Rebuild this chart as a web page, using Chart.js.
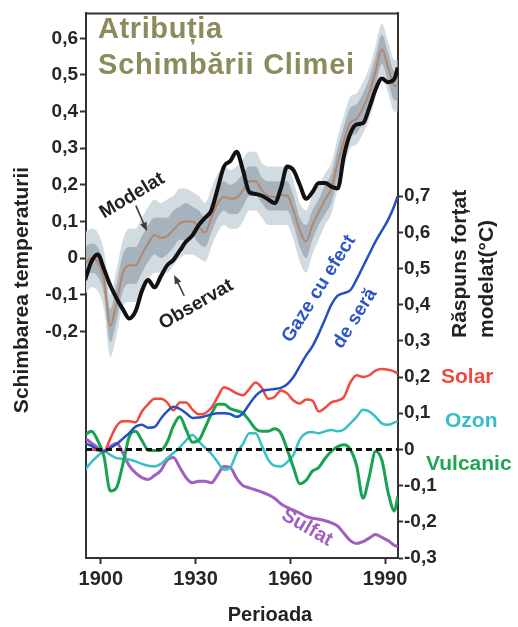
<!DOCTYPE html>
<html>
<head>
<meta charset="utf-8">
<script src="https://cdn.jsdelivr.net/npm/chart.js@4.4.1/dist/chart.umd.min.js"></script>
<style>
  html, body { margin: 0; padding: 0; background: #fff; }
  #wrap { width: 518px; height: 627px; position: relative; }
</style>
</head>
<body>
<div id="wrap"><canvas id="grafic"></canvas></div>
<script>
const FONT = "'Liberation Sans', Arial, sans-serif";

// years shared by every series
const years = [1895, 1897, 1899, 1901, 1903, 1905, 1907, 1909, 1911, 1913,
  1915, 1917, 1919, 1921, 1923, 1925, 1927, 1929, 1931, 1933,
  1935, 1937, 1939, 1941, 1943, 1945, 1947, 1949, 1951, 1953,
  1955, 1957, 1959, 1961, 1963, 1965, 1967, 1969, 1971, 1973,
  1975, 1977, 1979, 1981, 1983, 1985, 1987, 1989, 1991, 1993, 1994];

const xTicks = [1900, 1930, 1960, 1990];
const tempTicks = [-0.2, -0.1, 0, 0.1, 0.2, 0.3, 0.4, 0.5, 0.6];
const forcTicks = [-0.3, -0.2, -0.1, 0, 0.1, 0.2, 0.3, 0.4, 0.5, 0.6, 0.7];

// upper panel, left axis (temperature change)
const observed = [-0.06, -0.01, 0.01, -0.03, -0.075, -0.11, -0.14, -0.165, -0.145, -0.09,
  -0.06, -0.08, -0.05, -0.02, -0.005, 0.02, 0.045, 0.062, 0.09, 0.11,
  0.13, 0.19, 0.25, 0.265, 0.29, 0.24, 0.18, 0.175, 0.17, 0.16,
  0.15, 0.19, 0.25, 0.24, 0.2, 0.162, 0.18, 0.205, 0.205, 0.195,
  0.19, 0.28, 0.34, 0.365, 0.368, 0.41, 0.46, 0.49, 0.48, 0.49, 0.52];
const modeled = [-0.015, 0.0, -0.01, -0.06, -0.185, -0.12, -0.04, -0.02, -0.02, 0.01,
  0.04, 0.063, 0.055, 0.06, 0.077, 0.095, 0.1, 0.1, 0.085, 0.07,
  0.11, 0.15, 0.167, 0.162, 0.165, 0.185, 0.21, 0.21, 0.185, 0.17,
  0.167, 0.172, 0.17, 0.13, 0.075, 0.045, 0.09, 0.125, 0.16, 0.19,
  0.26, 0.32, 0.37, 0.38, 0.41, 0.45, 0.51, 0.57, 0.52, 0.47, 0.47];
const outerHi = [0.07, 0.08, 0.07, 0.02, -0.10, -0.03, 0.05, 0.08, 0.08, 0.11,
  0.14, 0.16, 0.15, 0.16, 0.17, 0.19, 0.19, 0.18, 0.17, 0.15,
  0.19, 0.23, 0.25, 0.24, 0.25, 0.27, 0.29, 0.29, 0.26, 0.25,
  0.25, 0.25, 0.25, 0.21, 0.15, 0.13, 0.17, 0.20, 0.23, 0.26,
  0.33, 0.39, 0.44, 0.45, 0.48, 0.52, 0.58, 0.64, 0.59, 0.54, 0.54];
const innerHi = [0.03, 0.04, 0.03, -0.02, -0.14, -0.07, 0.01, 0.03, 0.03, 0.06,
  0.09, 0.11, 0.11, 0.11, 0.13, 0.14, 0.15, 0.14, 0.13, 0.11,
  0.15, 0.19, 0.21, 0.20, 0.21, 0.23, 0.25, 0.25, 0.22, 0.21,
  0.21, 0.21, 0.21, 0.17, 0.11, 0.09, 0.13, 0.16, 0.20, 0.23,
  0.30, 0.36, 0.41, 0.42, 0.45, 0.49, 0.55, 0.61, 0.56, 0.51, 0.51];
const innerLo = [-0.06, -0.04, -0.05, -0.10, -0.23, -0.17, -0.09, -0.07, -0.07, -0.04,
  -0.01, 0.01, 0.00, 0.01, 0.03, 0.05, 0.05, 0.06, 0.04, 0.03,
  0.07, 0.11, 0.13, 0.12, 0.12, 0.14, 0.17, 0.17, 0.15, 0.13,
  0.13, 0.13, 0.13, 0.09, 0.03, 0.00, 0.05, 0.09, 0.12, 0.15,
  0.22, 0.28, 0.33, 0.34, 0.37, 0.41, 0.47, 0.53, 0.48, 0.43, 0.43];
const outerLo = [-0.10, -0.08, -0.09, -0.14, -0.27, -0.21, -0.13, -0.12, -0.12, -0.09,
  -0.06, -0.04, -0.04, -0.04, -0.02, 0.00, 0.01, 0.01, 0.00, -0.01,
  0.03, 0.07, 0.09, 0.08, 0.08, 0.10, 0.13, 0.13, 0.11, 0.09,
  0.09, 0.09, 0.09, 0.05, -0.01, -0.04, 0.01, 0.05, 0.09, 0.12,
  0.19, 0.25, 0.30, 0.31, 0.34, 0.38, 0.44, 0.50, 0.45, 0.40, 0.40];

// lower panel, right axis (forced response)
const greenhouse = [0.017, 0.01, 0.0, -0.005, 0.004, 0.015, 0.03, 0.045, 0.063, 0.068,
  0.06, 0.062, 0.085, 0.105, 0.118, 0.112, 0.1, 0.087, 0.088, 0.092,
  0.097, 0.1, 0.1, 0.098, 0.09, 0.1, 0.125, 0.148, 0.162, 0.165,
  0.167, 0.17, 0.18, 0.2, 0.23, 0.26, 0.285, 0.32, 0.36, 0.4,
  0.425, 0.432, 0.44, 0.47, 0.505, 0.54, 0.575, 0.605, 0.635, 0.675, 0.7];
const solar = [0.0, 0.0, -0.003, -0.005, 0.03, 0.065, 0.078, 0.078, 0.075, 0.105,
  0.125, 0.14, 0.14, 0.13, 0.108, 0.13, 0.13, 0.11, 0.097, 0.1,
  0.115, 0.145, 0.172, 0.165, 0.155, 0.15, 0.167, 0.185, 0.17, 0.14,
  0.145, 0.163, 0.155, 0.135, 0.127, 0.138, 0.135, 0.105, 0.115, 0.13,
  0.135, 0.145, 0.185, 0.205, 0.2, 0.205, 0.218, 0.222, 0.22, 0.215, 0.21];
const volcanic = [0.04, 0.05, 0.025, -0.02, -0.115, -0.105, -0.04, 0.035, 0.05, 0.025,
  -0.002, -0.003, -0.002, 0.02, 0.065, 0.09, 0.055, 0.02, 0.025, 0.06,
  0.098, 0.125, 0.125, 0.113, 0.107, 0.1, 0.08, 0.057, 0.05, 0.05,
  0.057, 0.045, 0.0, -0.05, -0.095, -0.085, -0.06, -0.05, -0.025, -0.005,
  0.008, 0.013, 0.0, -0.045, -0.135, -0.075, -0.005, -0.03, -0.12, -0.17, -0.13];
const ozone = [-0.056, -0.035, -0.018, -0.005, -0.015, -0.024, -0.026, -0.028, -0.033, -0.04,
  -0.045, -0.047, -0.04, -0.024, -0.01, 0.006, 0.025, 0.04, 0.022, 0.005,
  -0.012, -0.035, -0.056, -0.05, -0.01, 0.015, 0.045, 0.045, 0.01, -0.028,
  -0.045, -0.047, -0.035, -0.015, 0.027, 0.045, 0.048, 0.045, 0.05, 0.054,
  0.05, 0.055, 0.072, 0.09, 0.11, 0.105, 0.09, 0.072, 0.068, 0.075, 0.078];
const sulfate = [0.031, 0.018, 0.005, -0.005, 0.008, 0.017, -0.01, -0.045, -0.065, -0.078,
  -0.083, -0.072, -0.058, -0.03, -0.022, -0.05, -0.078, -0.092, -0.088, -0.088,
  -0.092, -0.07, -0.047, -0.05, -0.08, -0.1, -0.106, -0.112, -0.118, -0.125,
  -0.135, -0.15, -0.16, -0.168, -0.176, -0.185, -0.19, -0.193, -0.197, -0.203,
  -0.212, -0.232, -0.252, -0.26, -0.255, -0.245, -0.235, -0.243, -0.252, -0.265, -0.268];

const zeroYears = [1895.3, 1994.1];
const zeroVals = [0, 0];


function pts(xs, ys) {
  return xs.map(function(x, i) { return { x: x, y: ys[i] }; });
}

function line(data, axis, color, width, extra) {
  return Object.assign({
    data: data,
    yAxisID: axis,
    borderColor: color,
    borderWidth: width,
    pointRadius: 0,
    cubicInterpolationMode: 'monotone',
    fill: false
  }, extra || {});
}

function comma(v) {
  return v === 0 ? '0' : String(v).replace('.', ',');
}

function text(ctx, str, x, y, o) {
  ctx.save();
  ctx.translate(x, y);
  if (o.angle) ctx.rotate(o.angle * Math.PI / 180);
  ctx.font = 'bold ' + o.size + 'px ' + FONT;
  ctx.fillStyle = o.color || '#222';
  ctx.textAlign = o.align || 'center';
  ctx.textBaseline = o.base || 'middle';
  if (o.spacing) ctx.letterSpacing = o.spacing;
  ctx.fillText(str, 0, 0);
  ctx.restore();
}

function arrow(ctx, x1, y1, x2, y2) {
  var a = Math.atan2(y2 - y1, x2 - x1);
  var c = Math.cos(a), s = Math.sin(a);
  ctx.save();
  ctx.strokeStyle = '#3c3c3c';
  ctx.fillStyle = '#3c3c3c';
  ctx.lineWidth = 1.6;
  ctx.beginPath();
  ctx.moveTo(x1, y1);
  ctx.lineTo(x2 - 6 * c, y2 - 6 * s);
  ctx.stroke();
  ctx.beginPath();
  ctx.moveTo(x2, y2);
  ctx.lineTo(x2 - 9 * c + 3.5 * s, y2 - 9 * s - 3.5 * c);
  ctx.lineTo(x2 - 9 * c - 3.5 * s, y2 - 9 * s + 3.5 * c);
  ctx.closePath();
  ctx.fill();
  ctx.restore();
}

const annotations = {
  id: 'annotations',
  afterDraw: function(chart) {
    var ctx = chart.ctx;
    var a = chart.chartArea;
    var sx = chart.scales.x, st = chart.scales.y, sf = chart.scales.yR;

    // top frame line
    ctx.save();
    ctx.strokeStyle = '#333';
    ctx.lineWidth = 2;
    ctx.beginPath();
    ctx.moveTo(a.left, a.top);
    ctx.lineTo(a.right, a.top);
    ctx.stroke();
    ctx.restore();

    var olive = '#8b8b5b';
    text(ctx, 'Atribuția', 98, 38, { size: 29, color: olive, align: 'left', base: 'alphabetic', spacing: '0.6px' });
    text(ctx, 'Schimbării Climei', 98, 74, { size: 29, color: olive, align: 'left', base: 'alphabetic', spacing: '0.8px' });

    text(ctx, 'Modelat', sx.getPixelForValue(1909.9), st.getPixelForValue(0.17), { size: 19, angle: -31 });
    arrow(ctx, sx.getPixelForValue(1911.1), st.getPixelForValue(0.143), sx.getPixelForValue(1914.6), st.getPixelForValue(0.073));
    text(ctx, 'Observat', sx.getPixelForValue(1930.2), st.getPixelForValue(-0.127), { size: 19, angle: -30 });
    arrow(ctx, sx.getPixelForValue(1926.4), st.getPixelForValue(-0.103), sx.getPixelForValue(1923.2), st.getPixelForValue(-0.046));

    var blue = '#2a55c6';
    text(ctx, 'Gaze cu efect', sx.getPixelForValue(1969.1), sf.getPixelForValue(0.444), { size: 19, angle: -58, color: blue });
    text(ctx, 'de seră', sx.getPixelForValue(1980.5), sf.getPixelForValue(0.362), { size: 19, angle: -58, color: blue });
    text(ctx, 'Sulfat', sx.getPixelForValue(1965.3), sf.getPixelForValue(-0.216), { size: 20, angle: 30, color: '#a15fbf' });

    text(ctx, 'Solar', 441, sf.getPixelForValue(0.2), { size: 21, align: 'left', color: '#f04a3e' });
    text(ctx, 'Ozon', 445, sf.getPixelForValue(0.077), { size: 21, align: 'left', color: '#33bccb' });
    text(ctx, 'Vulcanic', 426, sf.getPixelForValue(-0.04), { size: 21, align: 'left', color: '#1fa552' });

    text(ctx, 'Răspuns forțat', 460, 338, { size: 21, angle: -90, align: 'left' });
    text(ctx, 'modelat(°C)', 487, 338, { size: 21, angle: -90, align: 'left' });
    text(ctx, 'Schimbarea temperaturii', 22, 290, { size: 21, angle: -90 });
    text(ctx, 'Perioada', 270, 615, { size: 20 });
  }
};

const axisLine = { display: true, width: 2, color: '#333' };
const tickGrid = { drawOnChartArea: false, drawTicks: true, tickLength: 6, tickWidth: 2, tickColor: '#333' };

new Chart(document.getElementById('grafic'), {
  type: 'line',
  data: {
    datasets: [
      line(pts(years, observed), 'y', '#111', 4),
      line(pts(years, modeled), 'y', '#b5866a', 2),
      line(pts(years, innerHi), 'y', 'transparent', 0, { fill: '+1', backgroundColor: '#a6b3bc' }),
      line(pts(years, innerLo), 'y', 'transparent', 0),
      line(pts(years, outerHi), 'y', 'transparent', 0, { fill: '+1', backgroundColor: '#d2dbe0' }),
      line(pts(years, outerLo), 'y', 'transparent', 0),
      line(pts(zeroYears, zeroVals), 'yR', '#111', 3, { borderDash: [6, 4] }),
      line(pts(years, greenhouse), 'yR', '#2450c2', 2.5),
      line(pts(years, solar), 'yR', '#f2483d', 2.5),
      line(pts(years, volcanic), 'yR', '#17a34f', 3),
      line(pts(years, ozone), 'yR', '#35c0c4', 2.5),
      line(pts(years, sulfate), 'yR', '#a35fc0', 3)
    ]
  },
  options: {
    responsive: true,
    maintainAspectRatio: false,
    animation: false,
    layout: { padding: { top: 8, left: 0, right: 0, bottom: 0 } },
    plugins: {
      legend: { display: false },
      tooltip: { enabled: false }
    },
    scales: {
      x: {
        type: 'linear',
        min: 1895.3,
        max: 1994.1,
        afterBuildTicks: function(s) { s.ticks = xTicks.map(function(v) { return { value: v }; }); },
        afterFit: function(s) { s.height = 69; },
        grid: tickGrid,
        border: axisLine,
        ticks: {
          autoSkip: false, maxRotation: 0, padding: 3, color: '#262626',
          font: { family: FONT, size: 20, weight: 'bold' },
          callback: function(v) { return String(v); }
        }
      },
      y: {
        type: 'linear',
        position: 'left',
        min: -0.819,
        max: 0.668,
        afterBuildTicks: function(s) { s.ticks = tempTicks.map(function(v) { return { value: v }; }); },
        afterFit: function(s) { s.width = 86; },
        grid: tickGrid,
        border: axisLine,
        ticks: {
          padding: 2, color: '#262626',
          font: { family: FONT, size: 19, weight: 'bold' },
          callback: function(v) { return comma(v); }
        }
      },
      yR: {
        type: 'linear',
        position: 'right',
        min: -0.3,
        max: 1.205,
        afterBuildTicks: function(s) { s.ticks = forcTicks.map(function(v) { return { value: v }; }); },
        afterFit: function(s) { s.width = 120; },
        grid: { drawOnChartArea: false, drawTicks: true, tickLength: 5, tickWidth: 2, tickColor: '#333' },
        border: axisLine,
        ticks: {
          padding: 1, color: '#262626',
          font: { family: FONT, size: 19, weight: 'bold' },
          callback: function(v) { return comma(v); }
        }
      }
    }
  },
  plugins: [annotations]
});
</script>
</body>
</html>
